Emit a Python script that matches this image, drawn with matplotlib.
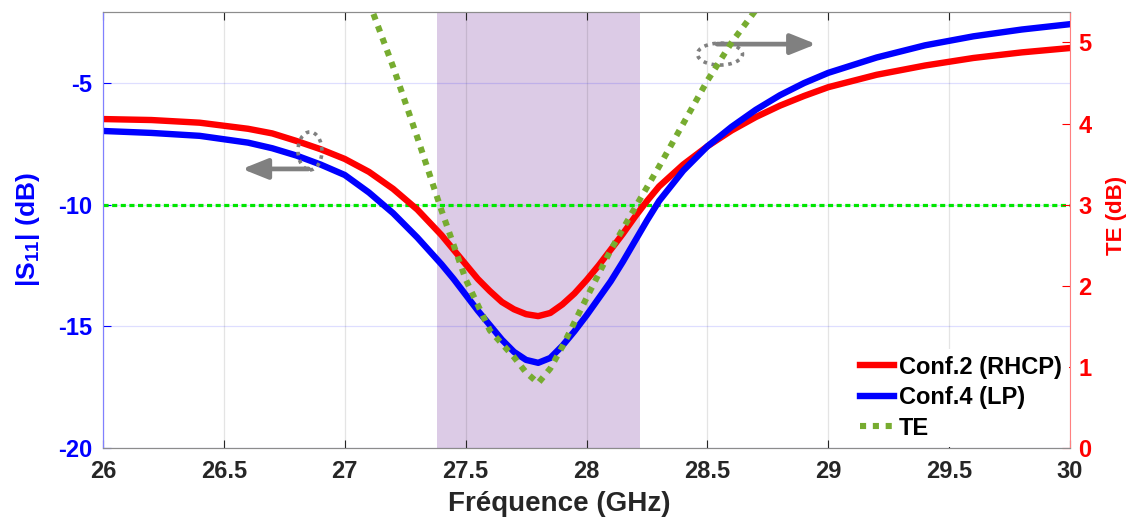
import matplotlib
matplotlib.use('Agg')
import matplotlib.pyplot as plt
import matplotlib.patches as patches
import numpy as np

plt.rcParams['font.family'] = ['Liberation Sans', 'DejaVu Sans']
plt.rcParams['font.weight'] = 'bold'
plt.rcParams['axes.labelweight'] = 'bold'
plt.rcParams['axes.unicode_minus'] = False
plt.rcParams['mathtext.fontset'] = 'custom'
plt.rcParams['mathtext.bf'] = 'Liberation Sans:bold'
plt.rcParams['mathtext.rm'] = 'Liberation Sans:bold'

# S11 curves (dB)
freq_s11 = [26.0, 26.2, 26.4, 26.6, 26.7, 26.8, 26.9, 27.0, 27.1, 27.2, 27.3, 27.4,
            27.45, 27.5, 27.55, 27.6, 27.65, 27.7, 27.75, 27.8, 27.85, 27.9, 27.95, 28.0,
            28.05, 28.1, 28.15, 28.2, 28.25, 28.3, 28.4, 28.5, 28.6, 28.7, 28.8, 28.9,
            29.0, 29.2, 29.4, 29.6, 29.8, 30.0]
s11_conf2 = [-6.48, -6.52, -6.63, -6.88, -7.07, -7.38, -7.72, -8.12, -8.65, -9.35, -10.2, -11.25,
             -11.85, -12.45, -13.05, -13.55, -14.0, -14.3, -14.5, -14.58, -14.45, -14.1, -13.65, -13.1,
             -12.5, -11.85, -11.2, -10.5, -9.85, -9.25, -8.35, -7.6, -6.95, -6.4, -5.93, -5.53,
             -5.17, -4.66, -4.28, -3.97, -3.74, -3.56]
s11_conf4 = [-6.97, -7.05, -7.17, -7.45, -7.68, -7.98, -8.35, -8.78, -9.5, -10.35, -11.35, -12.45,
             -13.05, -13.7, -14.35, -14.95, -15.55, -16.05, -16.38, -16.5, -16.3, -15.8, -15.2, -14.55,
             -13.85, -13.15, -12.35, -11.5, -10.65, -9.85, -8.6, -7.6, -6.8, -6.1, -5.5, -5.0,
             -4.58, -3.95, -3.45, -3.08, -2.8, -2.58]

# TE (dB)
freq_te = [27.1, 27.2, 27.3, 27.4, 27.5, 27.6, 27.7, 27.75, 27.8, 27.85, 27.9, 28.0,
           28.1, 28.2, 28.3, 28.4, 28.5, 28.6, 28.7]
te = [5.5, 4.7, 3.83, 2.93, 2.08, 1.45, 1.12, 0.93, 0.80, 0.98, 1.25, 1.85,
      2.44, 2.96, 3.47, 4.0, 4.53, 5.0, 5.4]

band = [27.38, 28.22]
s11_ref = -10
left_ticks = [-20, -15, -10, -5]
right_ticks = [0, 1, 2, 3, 4, 5]
x_ticks = [26, 26.5, 27, 27.5, 28, 28.5, 29, 29.5, 30]
x_labels = ['26', '26.5', '27', '27.5', '28', '28.5', '29', '29.5', '30']

fig = plt.figure(figsize=(11.31, 5.22), dpi=100)
ax = fig.add_axes([0.0911, 0.1418, 0.855, 0.8352])
ax2 = ax.twinx()

ax.axvspan(band[0], band[1], color='#dccbe6', lw=0, zorder=1)
ax.set_axisbelow(False)
ax.axhline(s11_ref, color='#00e600', lw=2.3, ls=(0, (1.6, 1.1)), zorder=3)
l1, = ax.plot(freq_s11, s11_conf2, color='#ff0000', lw=4.6, label='Conf.2 (RHCP)', zorder=4)
l2, = ax.plot(freq_s11, s11_conf4, color='#0000ff', lw=4.6, label='Conf.4 (LP)', zorder=4)
l3, = ax2.plot(freq_te, te, color='#77ac30', lw=4.4, ls=(0, (1, 1.1)), label='TE')

# annotations: dotted ellipses + arrows pointing to the matching axis
ax.add_patch(patches.Ellipse((26.856, -7.79), 0.099, 1.56, fill=False, ec='#808080',
                             lw=2.6, ls=(0, (1, 1.3)), zorder=5))
ax.add_patch(patches.Ellipse((28.552, -3.81), 0.186, 0.9, fill=False, ec='#808080',
                             lw=2.6, ls=(0, (1, 1.3)), zorder=5))
arrow = dict(arrowstyle='-|>,head_length=0.55,head_width=0.22', color='#808080', lw=3.4,
             mutation_scale=28, shrinkA=0, shrinkB=0)
ax.annotate('', xy=(26.575, -8.53), xytext=(26.85, -8.53), arrowprops=arrow, zorder=5)
ax.annotate('', xy=(28.95, -3.40), xytext=(28.54, -3.40), arrowprops=arrow, zorder=5)

ax.set_xlim(26, 30)
ax.set_ylim(-20, -2.08)
ax2.set_ylim(0, 5.376)
ax.set_xticks(x_ticks)
ax.set_xticklabels(x_labels)
ax.set_yticks(left_ticks)
ax2.set_yticks(right_ticks)

ax.grid(True, axis='x', color='#262626', alpha=0.12, lw=0.9)
ax.grid(True, axis='y', color='#0000ff', alpha=0.13, lw=0.9)

ax.tick_params(axis='x', direction='in', colors='#262626', labelsize=17, pad=9, length=6,
               top=True)
ax.tick_params(axis='y', direction='in', colors='#0000ff', labelsize=17, pad=8, length=6)
ax2.tick_params(axis='y', direction='in', colors='#ff0000', labelsize=17, pad=6, length=6)

for s in ['top', 'bottom']:
    ax.spines[s].set_color('#8c8c8c')
    ax2.spines[s].set_color('#8c8c8c')
ax.spines['left'].set_color('#8080ff')
ax2.spines['left'].set_color('#8080ff')
ax2.spines['right'].set_color('#ff8080')
ax.spines['right'].set_visible(False)

ax.set_xlabel('Fréquence (GHz)', fontsize=20, color='#262626', fontweight='bold')
ax.xaxis.set_label_coords(0.4716, -0.098)
ax.set_ylabel(r'|S$_\mathbf{11}$| (dB)', fontsize=19, color='#0000ff', fontweight='bold')
ax.yaxis.set_label_coords(-0.063, 0.5)
ax2.set_ylabel('TE (dB)', fontsize=16, color='#ff0000', fontweight='bold')
ax2.yaxis.set_label_coords(1.037, 0.534)

leg = ax2.legend(handles=[l1, l2, l3], loc='lower right', bbox_to_anchor=(1.0, 0.0),
                 fontsize=17, handlelength=1.45, handletextpad=0.2, labelspacing=0.32,
                 borderaxespad=0.05, borderpad=0.3, frameon=True, fancybox=False,
                 framealpha=1)
leg.get_frame().set_edgecolor('none')

fig.savefig('out.png', dpi=100)
